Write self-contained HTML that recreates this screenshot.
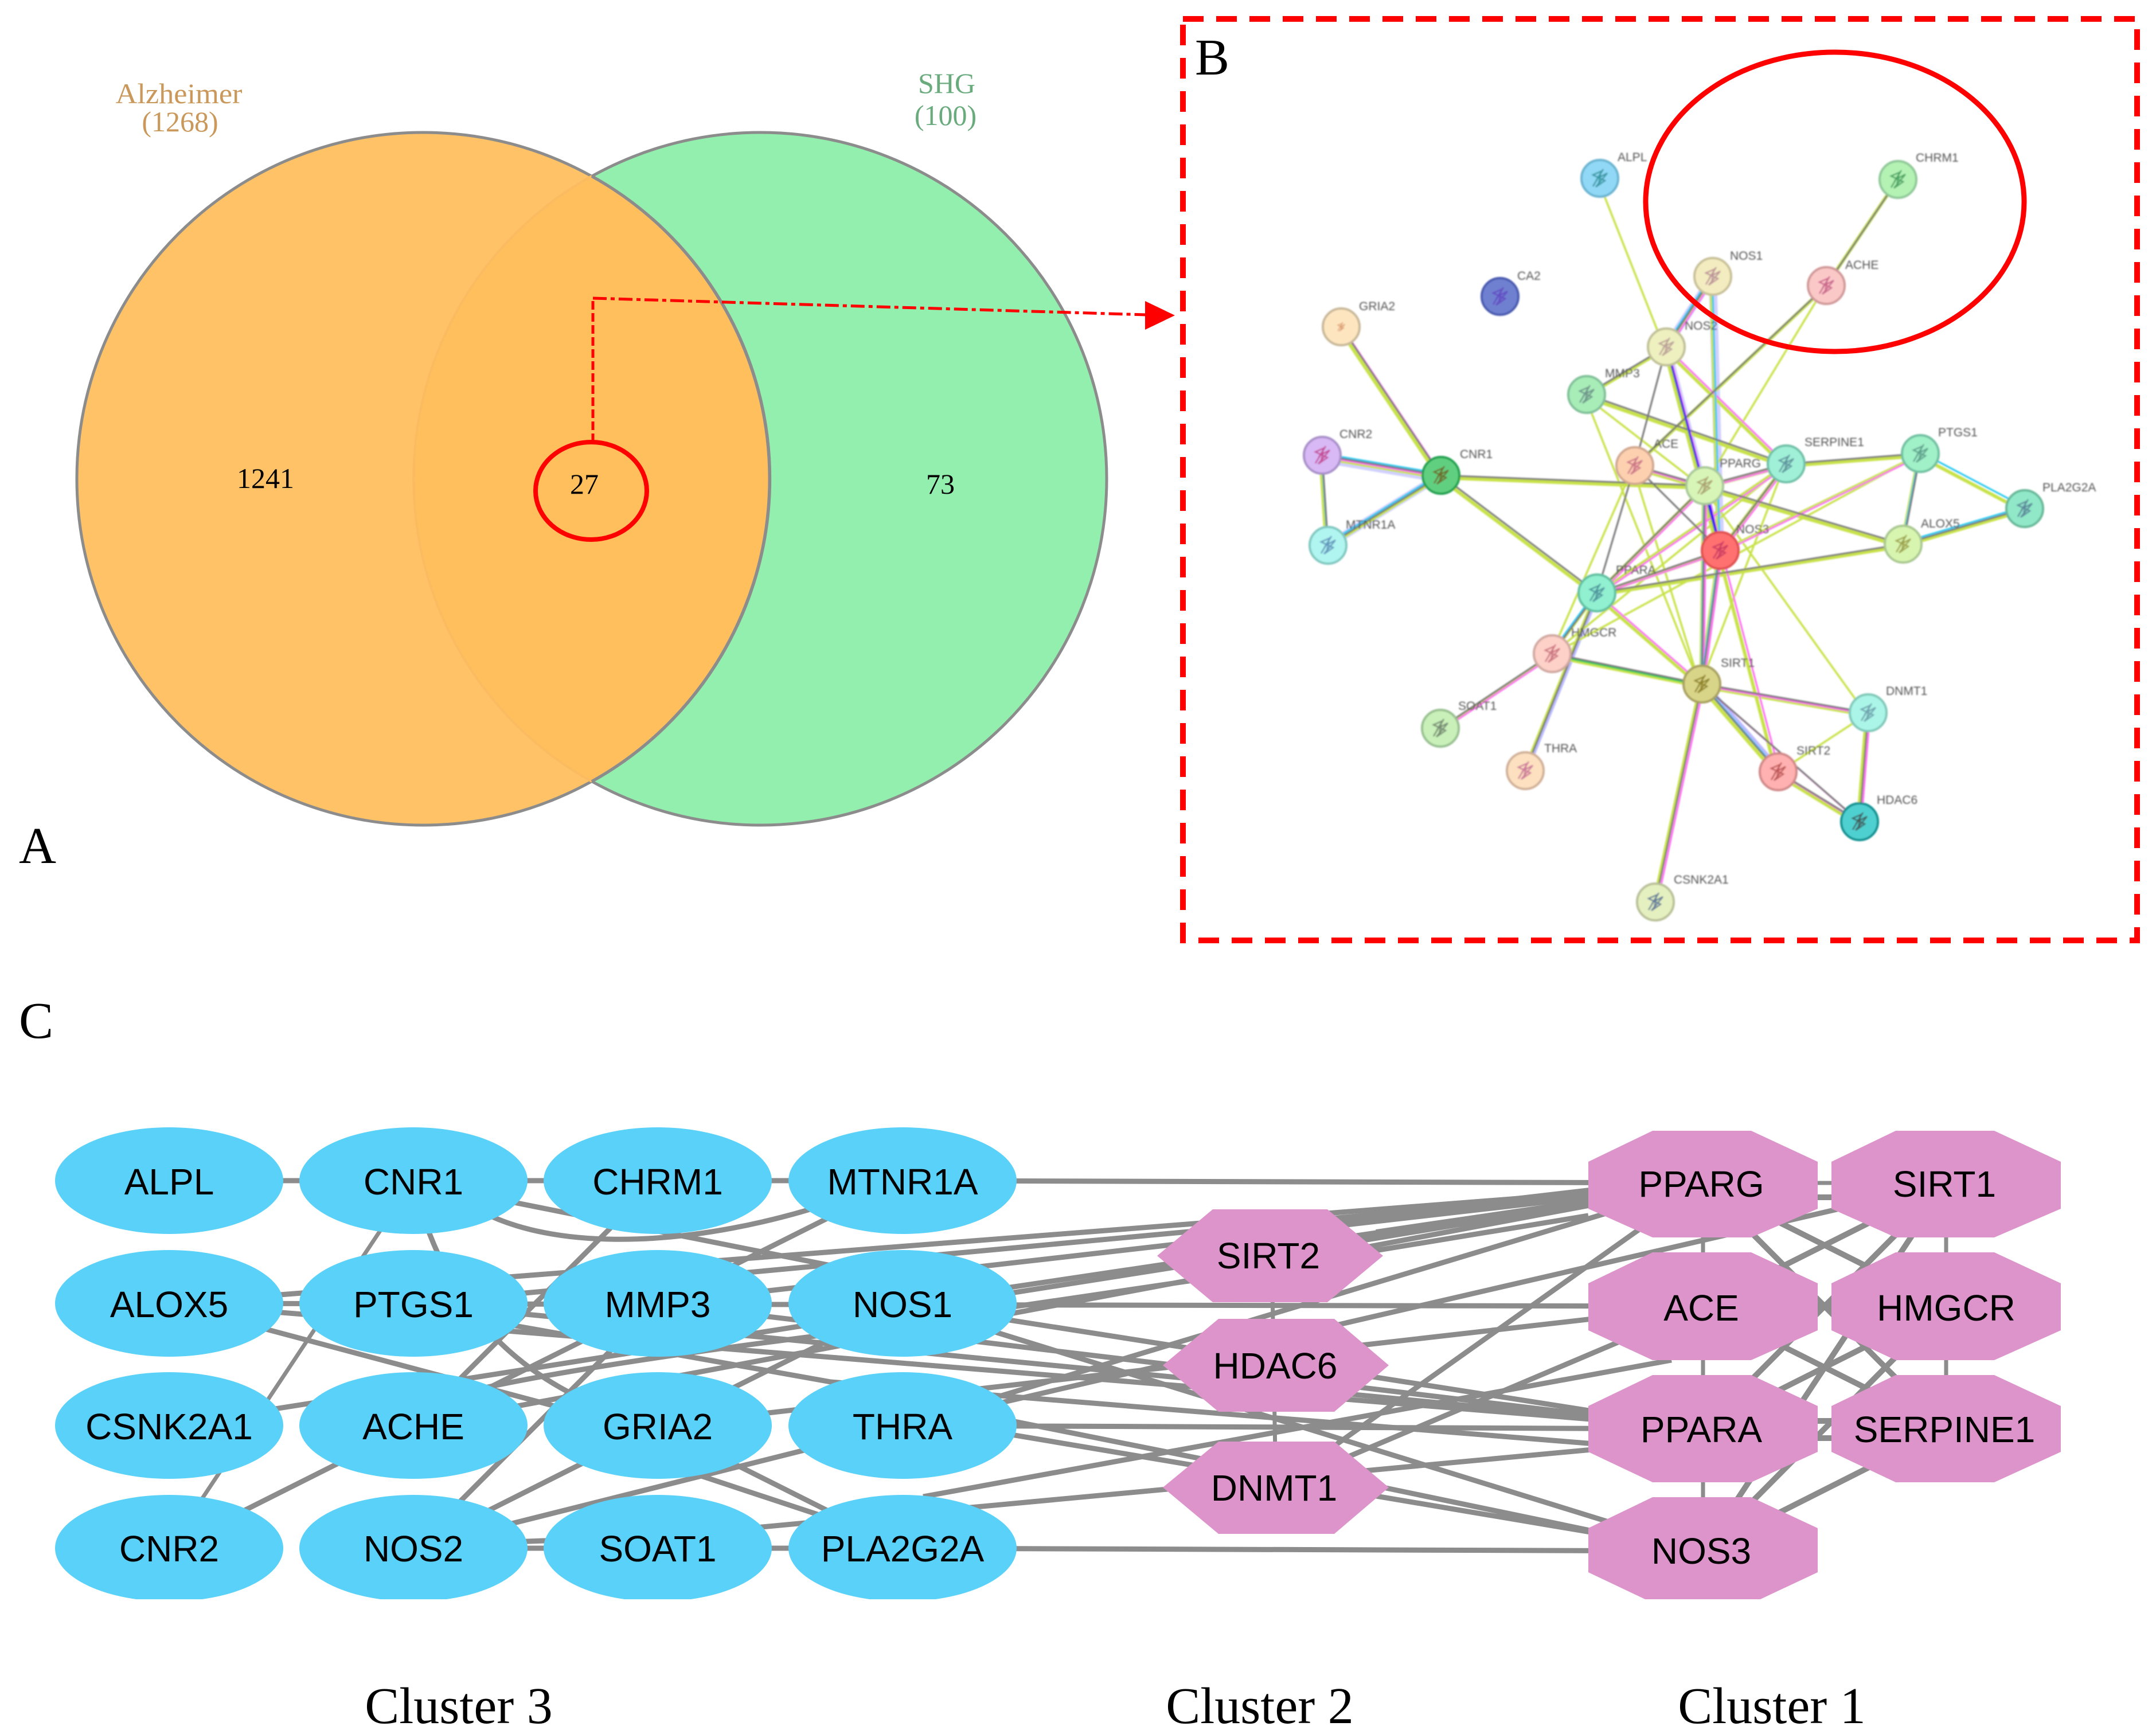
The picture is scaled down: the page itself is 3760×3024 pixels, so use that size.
<!DOCTYPE html>
<html><head><meta charset="utf-8"><style>
html,body{margin:0;padding:0;background:#fff}
svg{display:block}
.s{font-family:"Liberation Serif",serif}
.a{font-family:"Liberation Sans",sans-serif;font-size:64px;fill:#000;text-anchor:middle}
.l{font-family:"Liberation Sans",sans-serif;font-size:21px;fill:#555}
</style></head><body>
<svg width="3760" height="3024" viewBox="0 0 3760 3024" xmlns="http://www.w3.org/2000/svg">
<defs>
<clipPath id="rc"><circle cx="1326" cy="835" r="604"/></clipPath>
<filter id="b" x="-5%" y="-5%" width="110%" height="110%"><feGaussianBlur stdDeviation="1.2"/></filter>
<path id="sq" d="M-12 14L6 -16L-4 0L13 -9L-7 15L9 4L-12 -6L2 -12L-2 10" fill="none" stroke-width="2.5" opacity=".8"/>
</defs>
<rect width="3760" height="3024" fill="#fff"/>

<!-- Venn -->
<circle cx="1326" cy="835" r="604" fill="#93EFAD" stroke="#8c8c8c" stroke-width="5"/>
<circle cx="738" cy="835" r="604" fill="#FFC266" stroke="#8c8c8c" stroke-width="5"/>
<circle cx="738" cy="835" r="601" fill="#FEBF5C" clip-path="url(#rc)"/>
<path d="M1032 307A604 604 0 0 0 1032 1363" fill="none" stroke="#FBBB60" stroke-width="4"/>
<path d="M1032 307A604 604 0 0 1 1032 1363" fill="none" stroke="#8c8c8c" stroke-width="5"/>
<g class="s" font-size="50" text-anchor="middle">
<text x="312" y="180" fill="#C9985A" textLength="221" lengthAdjust="spacingAndGlyphs">Alzheimer</text>
<text x="314" y="229" fill="#C9985A">(1268)</text>
<text x="1651" y="162" fill="#6AAB7E">SHG</text>
<text x="1649" y="218" fill="#6AAB7E">(100)</text>
<text x="463" y="851" font-size="50" fill="#000">1241</text>
<text x="1019" y="861" font-size="50" fill="#000">27</text>
<text x="1640" y="861" font-size="50" fill="#000">73</text>
</g>
<ellipse cx="1031" cy="856" rx="97" ry="85" fill="none" stroke="#f00" stroke-width="8"/>
<path d="M1034 771V520" fill="none" stroke="#f00" stroke-width="5" stroke-dasharray="15 6"/>
<path d="M1034 520L2000 549" fill="none" stroke="#f00" stroke-width="5" stroke-dasharray="24 7 7 7"/>
<polygon points="1997,525 1997,575 2049,550" fill="#f00"/>
<text class="s" x="33" y="1505" font-size="90" fill="#000">A</text>
<text class="s" x="33" y="1810" font-size="90" fill="#000">C</text>

<!-- Panel B -->
<rect x="2063" y="33" width="1664" height="1607" fill="none" stroke="#f00" stroke-width="10" stroke-dasharray="36 22"/>
<text class="s" x="2084" y="130" font-size="90" fill="#000">B</text>
<g filter="url(#b)">
<g fill="none">
<g stroke="#a8a8ff" stroke-width="14" opacity=".55">
<path d="M2987 482L2906 605M2987 482L3000 960M2306 800L2513 835M2513 829L2316 951M2906 605L3000 960"/>
</g>
<g stroke="#9a9aff" stroke-width="6" transform="translate(4,-3)" opacity=".7">
<path d="M2785 1034L2660 1344M2968 1193L3101 1346"/>
</g>
<g stroke="#c8e24a" stroke-width="3.5" transform="translate(-3,3)">
<path d="M2790 311L2906 605M3185 498L2973 847M2767 688L2973 847M2767 688L2968 1193M2851 812L2707 1140M2851 812L2968 1193M2973 847L2968 1193M2973 847L3258 1243M3115 809L2968 1193M3115 809L2707 1140M3349 791L2707 1140M3258 1243L3101 1346"/>
</g>
<g stroke="#c8e24a" stroke-width="6" transform="translate(-3,4)">
<path d="M3310 313L3185 498M2987 482L2906 605M2987 482L3000 960M2906 605L3115 809M2906 605L3000 960M2906 605L2767 688M3185 498L2851 812M2767 688L3115 809M2339 570L2513 829M2306 794L2513 829M2306 794L2316 951M2513 829L2316 951M2513 829L2973 847M2513 829L2785 1034M2851 812L2973 847M2973 847L3115 809M2973 847L3000 960M2973 847L2785 1034M2973 847L3319 949M3115 809L3349 791M3115 809L3000 960M3115 809L2785 1034M3349 791L3531 887M3349 791L3319 949M3349 791L3000 960M3319 949L3531 887M3319 949L2785 1034M3000 960L2785 1034M3000 960L2968 1193M3000 960L3101 1346M2785 1034L2707 1140M2785 1034L2660 1344M2785 1034L2968 1193M2707 1140L2512 1270M2707 1140L2968 1193M2968 1193L3258 1243M2968 1193L3101 1346M2968 1193L2887 1573M3258 1243L3243 1433M3101 1346L3243 1433"/>
</g>
<g stroke="#ff66f0" stroke-width="3" transform="translate(3,3)">
<path d="M2987 482L2906 605M2906 605L3115 809M2906 605L3000 960M2339 570L2513 829M2306 794L2513 829M2851 812L2973 847M2973 847L3115 809M2973 847L3000 960M2973 847L2785 1034M2973 847L2968 1193M3115 809L3000 960M3115 809L2785 1034M3349 791L3000 960M3000 960L2785 1034M3000 960L2968 1193M3000 960L3101 1346M2785 1034L2968 1193M2707 1140L2512 1270M2968 1193L3258 1243M2968 1193L3243 1433M2968 1193L2887 1573M3258 1243L3243 1433M3101 1346L3243 1433"/>
</g>
<g stroke="#22c8f0" stroke-width="3" transform="translate(-1,-3)">
<path d="M2987 482L2906 605M2987 482L3000 960M2906 605L3000 960M2306 794L2513 829M2306 794L2316 951M2513 829L2316 951M2973 847L3000 960M2973 847L2968 1193M3349 791L3531 887M3349 791L3319 949M3319 949L3531 887M3000 960L2968 1193M2785 1034L2707 1140M2968 1193L3101 1346"/>
</g>
<g stroke="#00d060" stroke-width="3" transform="translate(3,3)"><path d="M2707 1140L2968 1193"/></g>
<g stroke="#777" stroke-width="3">
<path d="M3310 313L3185 498M2987 482L2906 605M2906 605L2767 688M2906 605L2851 812M2906 605L3000 960M3185 498L2851 812M2767 688L3115 809M2339 570L2513 829M2306 794L2513 829M2306 794L2316 951M2513 829L2316 951M2513 829L2973 847M2513 829L2785 1034M2851 812L2973 847M2851 812L3000 960M2851 812L2785 1034M2973 847L3115 809M2973 847L3000 960M2973 847L2785 1034M2973 847L3319 949M2973 847L2968 1193M3115 809L3349 791M3115 809L3000 960M3349 791L3319 949M3319 949L3531 887M3319 949L2785 1034M3000 960L2785 1034M3000 960L2968 1193M2785 1034L2707 1140M2785 1034L2660 1344M2707 1140L2512 1270M2707 1140L2968 1193M2968 1193L3258 1243M2968 1193L3101 1346M2968 1193L3243 1433M2968 1193L2887 1573M3258 1243L3243 1433M3101 1346L3243 1433"/>
</g>
<g stroke="#00f" stroke-width="2.5" transform="translate(1,-1)"><path d="M2906 605L3000 960M2973 847L3000 960"/></g>
</g>
<g stroke-width="4">
<circle cx="2790" cy="311" r="32" fill="#90D8F5" stroke="#6AB4D0"/>
<circle cx="3310" cy="313" r="32" fill="#B4F2B4" stroke="#90C898"/>
<circle cx="2987" cy="482" r="32" fill="#F3ECC0" stroke="#C8C098"/>
<circle cx="3185" cy="498" r="32" fill="#FBC8C8" stroke="#D09898"/>
<circle cx="2616" cy="517" r="32" fill="#7080D0" stroke="#4A5AB0"/>
<circle cx="2339" cy="570" r="32" fill="#FDE5C0" stroke="#C8B898"/>
<circle cx="2906" cy="605" r="32" fill="#EEF0C0" stroke="#C0C098"/>
<circle cx="2767" cy="688" r="32" fill="#A8EDB8" stroke="#80C098"/>
<circle cx="2306" cy="794" r="32" fill="#D8B8F5" stroke="#A890C8"/>
<circle cx="2513" cy="829" r="32" fill="#60D080" stroke="#20A050"/>
<circle cx="2851" cy="812" r="32" fill="#FDD0B0" stroke="#D0A890"/>
<circle cx="2973" cy="847" r="32" fill="#D8F5B8" stroke="#A8C898"/>
<circle cx="3115" cy="809" r="32" fill="#A0F0D8" stroke="#70C0A8"/>
<circle cx="3349" cy="791" r="32" fill="#A0F0C8" stroke="#70C0A0"/>
<circle cx="3531" cy="887" r="32" fill="#90E8C8" stroke="#68B898"/>
<circle cx="3319" cy="949" r="32" fill="#D8F5B0" stroke="#A8C890"/>
<circle cx="3000" cy="960" r="32" fill="#FF7070" stroke="#E05050"/>
<circle cx="2316" cy="951" r="32" fill="#B0F5F0" stroke="#80C8C0"/>
<circle cx="2785" cy="1034" r="32" fill="#90F0D0" stroke="#60C0A0"/>
<circle cx="2707" cy="1140" r="32" fill="#FDD0C8" stroke="#D0A8A0"/>
<circle cx="2968" cy="1193" r="32" fill="#D8D488" stroke="#A8A060"/>
<circle cx="3258" cy="1243" r="32" fill="#AAF5E8" stroke="#80C8B8"/>
<circle cx="2512" cy="1270" r="32" fill="#C8F0B8" stroke="#98C090"/>
<circle cx="2660" cy="1344" r="32" fill="#FDE0C0" stroke="#D0B098"/>
<circle cx="3101" cy="1346" r="32" fill="#FFB0B0" stroke="#D08888"/>
<circle cx="3243" cy="1433" r="32" fill="#50D0D0" stroke="#109090"/>
<circle cx="2887" cy="1573" r="32" fill="#E5F0C0" stroke="#B8C098"/>
</g>
<use href="#sq" x="2790" y="311" stroke="#208890"/><use href="#sq" x="3310" y="313" stroke="#309050"/><use href="#sq" x="2987" y="482" stroke="#B08090"/><use href="#sq" x="3185" y="498" stroke="#C05080"/><use href="#sq" x="2616" y="517" stroke="#6040C0"/><use href="#sq" x="2339" y="570" stroke="#D08050" transform="translate(2339 570) scale(.5) translate(-2339 -570)"/><use href="#sq" x="2906" y="605" stroke="#B09090"/><use href="#sq" x="2767" y="688" stroke="#608080"/><use href="#sq" x="2306" y="794" stroke="#C03080"/><use href="#sq" x="2513" y="829" stroke="#705010"/><use href="#sq" x="2851" y="812" stroke="#C06080"/><use href="#sq" x="2973" y="847" stroke="#A09060"/><use href="#sq" x="3115" y="809" stroke="#508090"/><use href="#sq" x="3349" y="791" stroke="#509080"/><use href="#sq" x="3531" y="887" stroke="#507090"/><use href="#sq" x="3319" y="949" stroke="#909030"/><use href="#sq" x="3000" y="960" stroke="#C03060"/><use href="#sq" x="2316" y="951" stroke="#5080B0"/><use href="#sq" x="2785" y="1034" stroke="#408090"/><use href="#sq" x="2707" y="1140" stroke="#C06070"/><use href="#sq" x="2968" y="1193" stroke="#807010"/><use href="#sq" x="3258" y="1243" stroke="#6090A0"/><use href="#sq" x="2512" y="1270" stroke="#607060"/><use href="#sq" x="2660" y="1344" stroke="#C06090"/><use href="#sq" x="3101" y="1346" stroke="#B04040"/><use href="#sq" x="3243" y="1433" stroke="#404040"/><use href="#sq" x="2887" y="1573" stroke="#406090"/>
<g class="l">
<text x="2821" y="281">ALPL</text><text x="3341" y="282">CHRM1</text><text x="3017" y="453">NOS1</text><text x="3218" y="469">ACHE</text><text x="2646" y="488">CA2</text><text x="2370" y="541">GRIA2</text><text x="2938" y="575">NOS2</text><text x="2799" y="658">MMP3</text><text x="2336" y="764">CNR2</text><text x="2546" y="799">CNR1</text><text x="2884" y="781">ACE</text><text x="2999" y="815">PPARG</text><text x="3147" y="778">SERPINE1</text><text x="3380" y="761">PTGS1</text><text x="3562" y="857">PLA2G2A</text><text x="3350" y="920">ALOX5</text><text x="3028" y="930">NOS3</text><text x="2347" y="922">MTNR1A</text><text x="2818" y="1001">PPARA</text><text x="2740" y="1110">HMGCR</text><text x="3001" y="1163">SIRT1</text><text x="3289" y="1212">DNMT1</text><text x="2543" y="1238">SOAT1</text><text x="2693" y="1312">THRA</text><text x="3133" y="1316">SIRT2</text><text x="3273" y="1402">HDAC6</text><text x="2919" y="1541">CSNK2A1</text>
</g>
</g>
<ellipse cx="3200" cy="352" rx="330" ry="261" fill="none" stroke="#f00" stroke-width="9"/>

<!-- Panel C edges -->
<g fill="none" stroke="#8C8C8C" stroke-width="9">
<path d="M295 2059H1574L2970 2063M780 2070C900 2190 1200 2190 1500 2080M721 2062L1574 2232M721 2059Q800 2400 1147 2486M295 2273L2970 2065M295 2273L2970 2278M295 2273L2970 2491M295 2273L1147 2500"/>
<path d="M721 2273L2970 2065M1147 2273L2970 2065M1574 2273L2970 2065M721 2273L2970 2491M1147 2273L2970 2491M1574 2273L2970 2491M1574 2273L2970 2705M887 2310L1449 2410L2806 2520"/>
<path d="M1147 2059L721 2486M1147 2273L721 2700M1147 2273L721 2486M721 2486L295 2700M1147 2486L721 2700M721 2700L1574 2486M1147 2486L1574 2700M1120 2540L1574 2690"/>
<path d="M721 2695L1147 2680L1574 2640M721 2700H1574L2970 2705"/>
<path d="M760 2440Q950 2390 1415 2331L2100 2230L2770 2120M721 2486L2970 2065M295 2486L2970 2065M1147 2486L1574 2273M1574 2059L1147 2273M1574 2486L2970 2065M1147 2486L2970 2278M1610 2610L2915 2372M1574 2640L2970 2510M1574 2486L2970 2492M1574 2440L2225 2570M2225 2555L2970 2710M2225 2594L2970 2065M2225 2594L2970 2278M1574 2486L3394 2065M2215 2190L2970 2065M1574 2470L2970 2705"/>
<path d="M2315 2130L2790 2075M2400 2150L2810 2090" stroke-width="12"/>
<path d="M721 2059L295 2700M2218 2190L2225 2594M2970 2065V2705M3394 2065V2491M2970 2063H3394" stroke-width="7"/>
<path d="M2970 2065L3394 2278M3394 2065L2970 2278M2970 2065L3394 2491M3394 2065L2970 2491M3394 2065L2970 2705M2970 2278H3394M2970 2278L3394 2491M3394 2278L2970 2491M3394 2278L2970 2705M2970 2478H3394M2970 2508H3394M3394 2491L2970 2705M2970 2088H3394" stroke-width="10"/>
</g>
<!-- Panel C nodes -->
<g fill="#59D1F9">
<ellipse cx="295" cy="2059" rx="199" ry="93"/><ellipse cx="721" cy="2059" rx="199" ry="93"/><ellipse cx="1147" cy="2059" rx="199" ry="93"/><ellipse cx="1574" cy="2059" rx="199" ry="93"/>
<ellipse cx="295" cy="2273" rx="199" ry="93"/><ellipse cx="721" cy="2273" rx="199" ry="93"/><ellipse cx="1147" cy="2273" rx="199" ry="93"/><ellipse cx="1574" cy="2273" rx="199" ry="93"/>
<ellipse cx="295" cy="2486" rx="199" ry="93"/><ellipse cx="721" cy="2486" rx="199" ry="93"/><ellipse cx="1147" cy="2486" rx="199" ry="93"/><ellipse cx="1574" cy="2486" rx="199" ry="93"/>
<ellipse cx="295" cy="2700" rx="199" ry="93"/><ellipse cx="721" cy="2700" rx="199" ry="93"/><ellipse cx="1147" cy="2700" rx="199" ry="93"/><ellipse cx="1574" cy="2700" rx="199" ry="93"/>
</g>
<g fill="#DD94CA">
<polygon points="2018,2190 2115,2109 2315,2109 2412,2190 2315,2271 2115,2271"/>
<polygon points="2028,2381 2125,2300 2327,2300 2422,2381 2327,2462 2125,2462"/>
<polygon points="2028,2594 2125,2514 2327,2514 2422,2594 2327,2675 2125,2675"/>
<polygon points="2882,1972 3054,1972 3170,2026 3170,2108 3054,2158 2882,2158 2770,2108 2770,2026"/>
<polygon points="3306,1972 3478,1972 3594,2026 3594,2108 3478,2158 3306,2158 3194,2108 3194,2026"/>
<polygon points="2882,2184 3054,2184 3170,2238 3170,2320 3054,2372 2882,2372 2770,2320 2770,2238"/>
<polygon points="3306,2184 3478,2184 3594,2238 3594,2320 3478,2372 3306,2372 3194,2320 3194,2238"/>
<polygon points="2882,2398 3054,2398 3170,2452 3170,2532 3054,2585 2882,2585 2770,2532 2770,2452"/>
<polygon points="3306,2398 3478,2398 3594,2452 3594,2532 3478,2585 3306,2585 3194,2532 3194,2452"/>
<polygon points="2882,2611 3054,2611 3170,2665 3170,2742 3070,2789 2869,2789 2770,2742 2770,2665"/>
</g>
<rect x="60" y="2789" width="1760" height="12" fill="#fff"/>
<g class="a">
<text x="295" y="2083">ALPL</text><text x="721" y="2083">CNR1</text><text x="1147" y="2083">CHRM1</text><text x="1574" y="2083">MTNR1A</text>
<text x="295" y="2297">ALOX5</text><text x="721" y="2297">PTGS1</text><text x="1147" y="2297">MMP3</text><text x="1574" y="2297">NOS1</text>
<text x="295" y="2510">CSNK2A1</text><text x="721" y="2510">ACHE</text><text x="1147" y="2510">GRIA2</text><text x="1574" y="2510">THRA</text>
<text x="295" y="2723">CNR2</text><text x="721" y="2723">NOS2</text><text x="1147" y="2723">SOAT1</text><text x="1574" y="2723">PLA2G2A</text>
<text x="2212" y="2212">SIRT2</text><text x="2224" y="2404">HDAC6</text><text x="2222" y="2617">DNMT1</text>
<text x="2967" y="2087">PPARG</text><text x="3391" y="2087">SIRT1</text><text x="2967" y="2303">ACE</text><text x="3394" y="2303">HMGCR</text><text x="2967" y="2515">PPARA</text><text x="3391" y="2515">SERPINE1</text><text x="2967" y="2727">NOS3</text>
</g>
<g class="s" font-size="90" fill="#000" text-anchor="middle">
<text x="800" y="3005">Cluster 3</text><text x="2197" y="3005">Cluster 2</text><text x="3090" y="3005">Cluster 1</text>
</g>
</svg>
</body></html>
